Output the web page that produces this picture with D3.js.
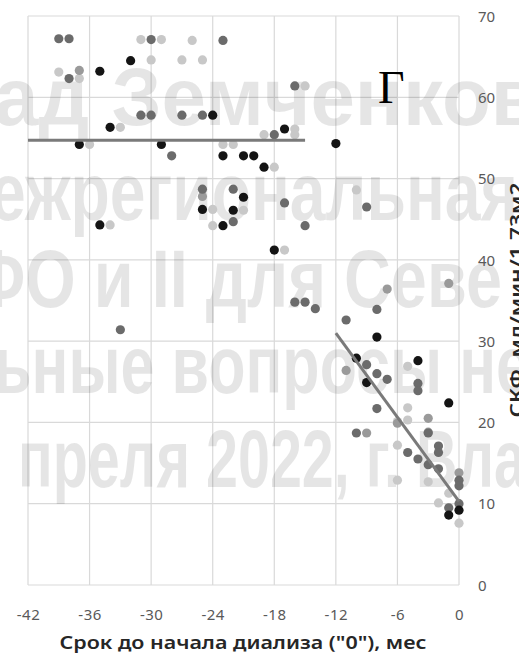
<!DOCTYPE html>
<html><head><meta charset="utf-8">
<script src="https://cdn.jsdelivr.net/npm/d3@7"></script>
<style>
html,body{margin:0;padding:0;background:#fff;overflow:hidden}
svg{display:block}
</style></head>
<body>
<svg id="chart" width="519" height="662"></svg>
<script>
// ---- data ----
const xTicks = [-42, -36, -30, -24, -18, -12, -6, 0];
const yTicks = [0, 10, 20, 30, 40, 50, 60, 70];
const xTitle = 'Срок до начала диализа ("0"), мес';
const yTitle = 'СКФ, мл/мин/1,73м2';
const panelLabel = 'Г';
const watermark = ['ад Земченков', 'ежрегиональная', 'ФО и II для Севе', 'ьные вопросы не', 'преля 2022, г. Вла'];

// [month, eGFR]
const seriesBlack = [[-35,63.2],[-32,64.5],[-34,56.3],[-37,54.2],[-29,54.2],[-24,57.8],[-35,44.3],[-17,56.1],
  [-23,52.8],[-21,52.8],[-20,52.8],[-19,51.4],[-12,54.3],[-21,47.7],[-25,46.2],[-22,46.1],[-23,44.2],[-18,41.2],
  [-8,30.5],[-10,27.9],[-9,24.9],[-4,27.6],[-1,22.4],[-1,8.6],[0,9.2]];
const seriesDark = [[-39,67.2],[-38,67.2],[-38,62.3],[-30,67.1],[-23,67.0],[-31,57.8],[-30,57.8],[-27,57.8],[-25,57.8],
  [-28,52.8],[-16,61.4],[-18,55.4],[-25,48.7],[-22,48.7],[-22,44.7],[-17,47.0],[-15,44.2],[-9,46.5],[-16,34.8],[-15,34.8],
  [-14,34.0],[-11,32.6],[-8,33.9],[-33,31.4],[-9,27.1],[-8,26.0],[-7,25.3],[-4,24.8],[-4,23.9],[-8,21.7],[-10,18.7],
  [-3,18.7],[-5,16.3],[-4,15.5],[-3,14.8],[-2,17.1],[-2,16.3],[-2,14.3],[0,12.9],[0,12.2],[-1,9.5],[0,10.0]];
const seriesMid = [[-37,63.3],[-25,47.8],[-7,36.4],[-1,37.1],[-11,26.4],[-3,20.5],[-3,18.8],[0,13.8],[-6,19.9],[-9,18.7]];
const seriesLight = [[-39,63.1],[-37,62.3],[-31,67.1],[-29,67.1],[-26,67.0],[-30,64.6],[-27,64.6],[-25,64.6],[-33,56.3],
  [-36,54.2],[-15,61.4],[-16,56.1],[-19,55.4],[-16,55.4],[-23,54.2],[-22,54.2],[-18,51.4],[-24,46.2],[-21,46.1],[-24,44.2],
  [-17,41.2],[-34,44.3],[-10,48.6],[-5,26.9],[-5,21.8],[-6,20.1],[-5,20.3],[-6,17.2],[-3,12.7],[-6,12.9],[-2,10.1],
  [-1,11.3],[0,7.6]];
const trend1 = [[-42,54.7],[-15,54.7]];
const trend2 = [[-12,31.0],[0,10.3]];

// ---- drawing ----
const svg = d3.select('#chart');
const x = d3.scaleLinear().domain([-42, 0]).range([28, 459]);
const y = d3.scaleLinear().domain([0, 70]).range([585, 16]);

// grid
const grid = svg.append('g').attr('stroke', '#d9d9d9').attr('stroke-width', 1.2);
grid.selectAll('line.v').data(xTicks).join('line')
  .attr('x1', d => x(d)).attr('x2', d => x(d)).attr('y1', y(70)).attr('y2', y(0));
grid.selectAll('line.h').data(yTicks).join('line')
  .attr('x1', x(-42)).attr('x2', x(0)).attr('y1', d => y(d)).attr('y2', d => y(d));

// watermark (background overlay text of the slide)
const wmY = [125, 220, 307, 393, 487];
const wmX = [-6, -10, -30, -6, 18];
const wmW = [546, 528, 532, 536, 508];
svg.append('g').selectAll('text').data(watermark).join('text')
  .attr('x', (d, i) => wmX[i]).attr('y', (d, i) => wmY[i])
  .attr('textLength', (d, i) => wmW[i]).attr('lengthAdjust', 'spacingAndGlyphs')
  .attr('font-family', 'Liberation Sans, Arial, sans-serif').attr('font-weight', 'bold')
  .attr('font-size', 82).attr('fill', '#000').attr('fill-opacity', 0.1)
  .text(d => d);

// points
const groups = [
  {data: seriesLight, color: '#c8c8c8'},
  {data: seriesMid, color: '#9a9a9a'},
  {data: seriesDark, color: '#6b6b6b'},
  {data: seriesBlack, color: '#141414'}
];
groups.forEach(g => {
  svg.append('g').selectAll('circle').data(g.data).join('circle')
    .attr('cx', d => x(d[0])).attr('cy', d => y(d[1])).attr('r', 4.6)
    .attr('fill', g.color);
});

// trend lines
const line = d3.line().x(d => x(d[0])).y(d => y(d[1]));
[trend1, trend2].forEach(t => {
  svg.append('path').datum(t).attr('d', line).attr('fill', 'none')
    .attr('stroke', '#7a7a7a').attr('stroke-width', 3);
});

// axes labels
const xAxis = d3.axisBottom(x).tickValues(xTicks).tickSize(0).tickPadding(0).tickFormat(d => String(d));
const gx = svg.append('g').attr('transform', 'translate(0,620)').call(xAxis);
gx.select('.domain').remove();
gx.selectAll('text').attr('dy', 0).attr('font-family', 'Noto Sans, sans-serif').attr('font-size', 15)
  .attr('fill', '#595959').attr('letter-spacing', 0.5);

const yAxis = d3.axisRight(y).tickValues(yTicks).tickSize(0).tickPadding(0).tickFormat(d => String(d));
const gy = svg.append('g').attr('transform', 'translate(478,0)').call(yAxis);
gy.select('.domain').remove();
gy.selectAll('text').attr('x', 0).attr('dy', '0.35em').attr('font-family', 'Noto Sans, sans-serif').attr('font-size', 15)
  .attr('fill', '#595959');

// titles
svg.append('text').attr('x', 243).attr('y', 649).attr('text-anchor', 'middle')
  .attr('font-family', 'Noto Sans, sans-serif').attr('font-size', 18).attr('font-weight', 600)
  .attr('fill', '#262626').attr('textLength', 367).attr('lengthAdjust', 'spacingAndGlyphs')
  .text(xTitle);
svg.append('text').attr('transform', 'translate(523,300) rotate(-90)').attr('text-anchor', 'middle')
  .attr('font-family', 'Noto Sans, sans-serif').attr('font-size', 18).attr('font-weight', 600)
  .attr('fill', '#262626').attr('textLength', 235).attr('lengthAdjust', 'spacingAndGlyphs')
  .text(yTitle);

svg.append('text').attr('x', 378).attr('y', 103)
  .attr('font-family', 'Liberation Serif, Times New Roman, serif').attr('font-size', 46)
  .attr('fill', '#000').text(panelLabel);
</script>
</body></html>
